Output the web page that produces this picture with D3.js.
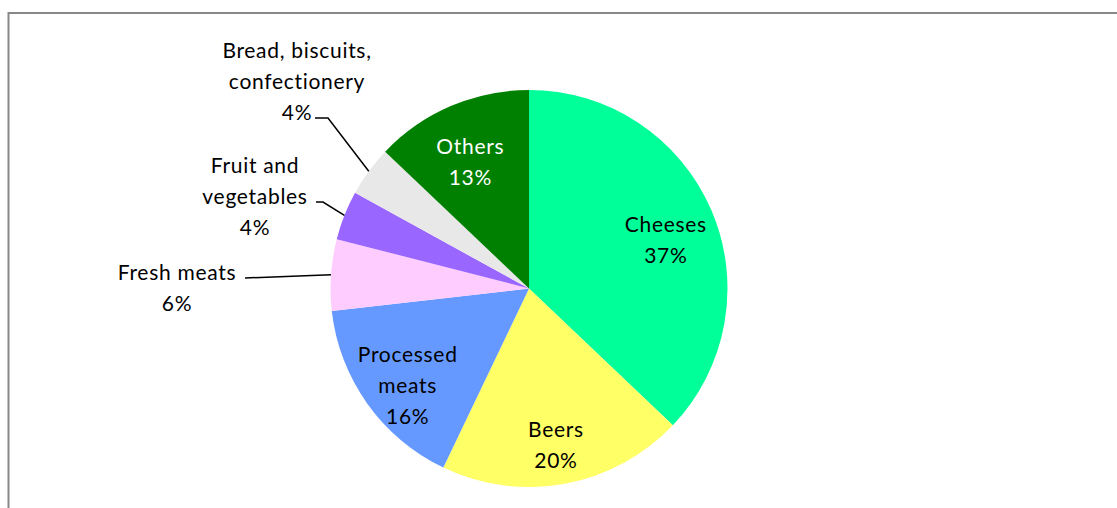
<!DOCTYPE html>
<html>
<head>
<meta charset="utf-8">
<script src="https://cdn.jsdelivr.net/npm/d3@7"></script>
<style>
  body { margin: 0; background: #fff; }
  text { font-family: Lato, "Open Sans", sans-serif; font-size: 21px; fill: #000;
         letter-spacing: 0.7px; font-variant-ligatures: none; }
</style>
</head>
<body>
<div id="pie"></div>
<script>
// values (share of total, clockwise from 12 o'clock)
const categories = ["Cheeses", "Beers", "Processed meats", "Fresh meats", "Fruit and vegetables", "Bread, biscuits, confectionery", "Others"];
const shares = [37.1, 20.0, 16.1, 5.8, 4.0, 4.1, 12.9];
const labelLines = [["Cheeses"], ["Beers"], ["Processed", "meats"], ["Fresh meats"], ["Fruit and", "vegetables"], ["Bread, biscuits,", "confectionery"], ["Others"]];
const colors = ["#00ff99", "#ffff66", "#6699ff", "#ffccff", "#9966ff", "#e8e8e8", "#008000"];

const data = categories.map((c, i) => ({name: c, value: shares[i], lines: labelLines[i], color: colors[i]}));

const width = 1117, height = 508;
const cx = 529, cy = 288.5, radius = 198.5;
const lineH = 31;

// outside labels: text centre x, first baseline y, elbow of leader line
const outside = {
  "Fresh meats": {x: 177, y: 280, lx: 245, ly: 278, ex: 245},
  "Fruit and vegetables": {x: 255, y: 173, lx: 316, ly: 202, ex: 323},
  "Bread, biscuits, confectionery": {x: 297, y: 58, lx: 315, ly: 118, ex: 328}
};

const svg = d3.select("#pie").append("svg")
  .attr("width", width).attr("height", height);

// chart frame (runs off the right and bottom)
svg.append("rect")
  .attr("x", 8.5).attr("y", 13)
  .attr("width", 1300).attr("height", 800)
  .attr("fill", "none").attr("stroke", "#888").attr("stroke-width", 2);

const pie = d3.pie().sort(null).value(d => d.value);
const arc = d3.arc().innerRadius(0).outerRadius(radius);
const labelArc = d3.arc().innerRadius(radius * 0.75).outerRadius(radius * 0.75);
const pct = d3.format(".0f");

const g = svg.append("g").attr("transform", `translate(${cx},${cy})`);
const arcs = pie(data);

g.selectAll("path")
  .data(arcs)
  .join("path")
  .attr("d", arc)
  .attr("fill", d => d.data.color);

// leader lines for small slices
arcs.filter(d => outside[d.data.name]).forEach(d => {
  const o = outside[d.data.name];
  const mid = (d.startAngle + d.endAngle) / 2;
  const px = cx + radius * Math.sin(mid), py = cy - radius * Math.cos(mid);
  svg.append("polyline")
    .attr("points", [[o.lx, o.ly], [o.ex, o.ly], [px, py]].map(p => p.join(",")).join(" "))
    .attr("fill", "none").attr("stroke", "#000").attr("stroke-width", 1.5);
});

arcs.forEach(d => {
  const lines = d.data.lines.concat([pct(d.data.value) + "%"]);
  const o = outside[d.data.name];
  let x, y0;
  if (o) {
    x = o.x; y0 = o.y;
  } else {
    const [lx, ly] = labelArc.centroid(d);
    x = cx + lx;
    y0 = cy + ly - (lines.length - 1) * lineH / 2 + 18;
  }
  const t = svg.append("text")
    .attr("text-anchor", "middle")
    .style("fill", d.data.name === "Others" ? "#fff" : "#000");
  lines.forEach((s, i) => {
    t.append("tspan").attr("x", x).attr("y", y0 + i * lineH).text(s);
  });
});
</script>
</body>
</html>
